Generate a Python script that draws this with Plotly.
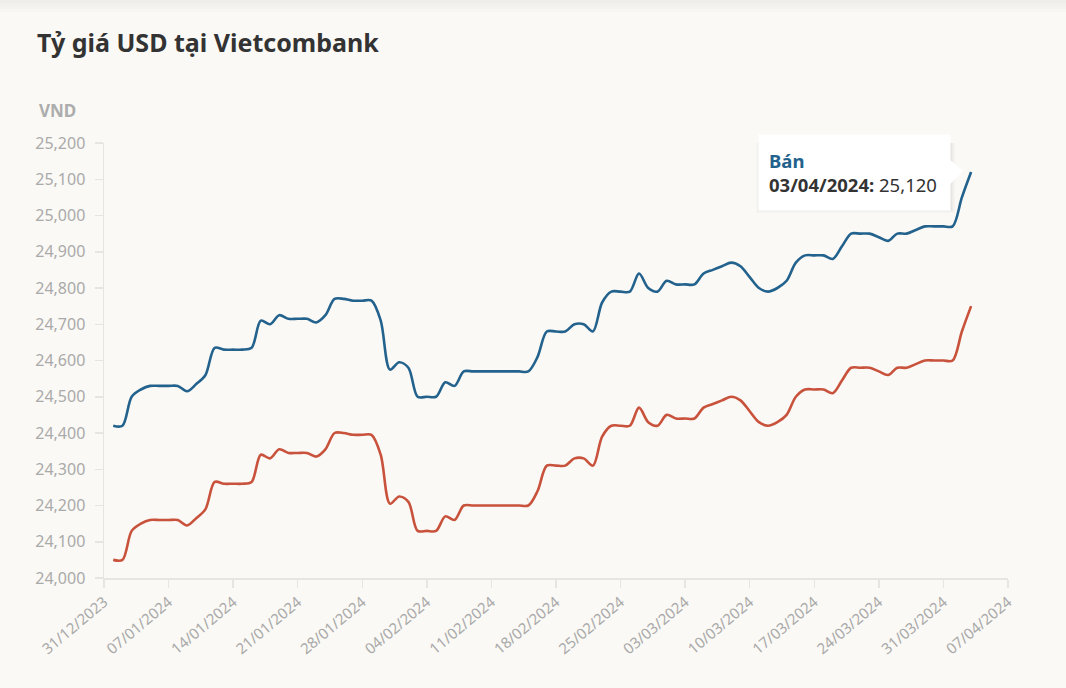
import pandas as pd
import plotly.graph_objects as go

# Daily selling (Bán) and buying (Mua) USD rates at Vietcombank, 01/01/2024 - 03/04/2024
sell = [
    24420, 24420, 24500, 24520, 24530, 24530, 24530, 24530, 24515, 24535,
    24560, 24635, 24630, 24630, 24630, 24635, 24710, 24700, 24725, 24715,
    24715, 24715, 24705, 24725, 24770, 24770, 24765, 24765, 24765, 24710,
    24575, 24595, 24580, 24500, 24500, 24500, 24540, 24530, 24570, 24570,
    24570, 24570, 24570, 24570, 24570, 24570, 24610, 24680, 24680, 24680,
    24700, 24700, 24680, 24760, 24790, 24790, 24790, 24840, 24800, 24790,
    24820, 24810, 24810, 24810, 24840, 24850, 24860, 24870, 24860, 24830,
    24800, 24790, 24800, 24820, 24870, 24890, 24890, 24890, 24880, 24915,
    24950, 24950, 24950, 24940, 24930, 24950, 24950, 24960, 24970, 24970,
    24970, 24970, 25050, 25120,
]
buy = [
    24050, 24050, 24130, 24150, 24160, 24160, 24160, 24160, 24145, 24165,
    24190, 24265, 24260, 24260, 24260, 24265, 24340, 24330, 24355, 24345,
    24345, 24345, 24335, 24355, 24400, 24400, 24395, 24395, 24395, 24340,
    24205, 24225, 24210, 24130, 24130, 24130, 24170, 24160, 24200, 24200,
    24200, 24200, 24200, 24200, 24200, 24200, 24240, 24310, 24310, 24310,
    24330, 24330, 24310, 24390, 24420, 24420, 24420, 24470, 24430, 24420,
    24450, 24440, 24440, 24440, 24470, 24480, 24490, 24500, 24490, 24460,
    24430, 24420, 24430, 24450, 24500, 24520, 24520, 24520, 24510, 24545,
    24580, 24580, 24580, 24570, 24560, 24580, 24580, 24590, 24600, 24600,
    24600, 24600, 24680, 24750,
]
dates = pd.date_range("2024-01-01", periods=len(sell), freq="D")

y_ticks = [24000, 24100, 24200, 24300, 24400, 24500, 24600, 24700, 24800,
           24900, 25000, 25100, 25200]

title_text = "Tỷ giá USD tại Vietcombank"
unit_text = "VND"
sell_name = "Bán"
buy_name = "Mua"

BG = "#faf9f5"
BLUE = "#22628d"
RED = "#c8523b"
GRAY_TXT = "#aaaaaa"
AXIS = "#e6e5e2"
FONT = "Noto Sans"

fig = go.Figure()
fig.add_trace(go.Scatter(
    x=dates, y=buy, name=buy_name, mode="lines",
    line=dict(color=RED, width=2.6, shape="spline", smoothing=0.9),
))
fig.add_trace(go.Scatter(
    x=dates, y=sell, name=sell_name, mode="lines",
    line=dict(color=BLUE, width=2.6, shape="spline", smoothing=0.9),
))

last_x = dates[-1]
last_x_str = last_x.strftime("%Y-%m-%d")
last_y = sell[-1]

shapes = []
# soft top shadow band
for h in [3, 6, 9, 12]:
    shapes.append(dict(
        type="rect", xref="paper", yref="paper",
        x0=-0.2, x1=1.2, y0=1 + (143 - h) / 435, y1=1 + 150 / 435,
        fillcolor="rgba(0,0,0,0.012)", line=dict(width=0), layer="below",
    ))
# tooltip shadow
for pad, op in [(4, 0.018), (2.5, 0.025), (1.2, 0.035)]:
    shapes.append(dict(
        type="path", xref="x", yref="y", xsizemode="pixel", ysizemode="pixel",
        xanchor=last_x_str, yanchor=last_y,
        path=f"M {-211 - pad},{-38 - pad + 1} L {-20 + pad},{-38 - pad + 1} "
             f"L {-20 + pad},{38 + pad - 2} L {-211 - pad},{38 + pad - 2} Z",
        fillcolor=f"rgba(0,0,0,{op})", line=dict(width=0), layer="above",
    ))
# tooltip pointer
shapes.append(dict(
    type="path", xref="x", yref="y", xsizemode="pixel", ysizemode="pixel",
    xanchor=last_x_str, yanchor=last_y,
    path="M -22,13 L -8,1 L -22,-13 Z",
    fillcolor="white", line=dict(width=0), layer="above",
))

annotations = [
    dict(
        xref="paper", yref="paper", x=(37 - 104) / 904, y=1,
        xanchor="left", yanchor="bottom", yshift=19, showarrow=False,
        text=f"<b>{unit_text}</b>", font=dict(family=FONT, size=17, color="#adadad"),
    ),
    dict(
        x=last_x, y=last_y, xref="x", yref="y", xanchor="right", yanchor="middle",
        xshift=-20, showarrow=False, align="left", valign="middle",
        width=171, height=55, borderpad=10, bgcolor="white",
        text=(f"<b><span style='color:{BLUE}'>{sell_name}</span></b><br>"
              f"<b>{last_x:%d/%m/%Y}:</b> {last_y:,}"),
        font=dict(family=FONT, size=18.5, color="#333333"),
    ),
]

fig.update_layout(
    width=1066, height=688,
    paper_bgcolor=BG, plot_bgcolor=BG,
    margin=dict(l=104, r=58, t=143, b=110),
    showlegend=False, hovermode=False,
    font=dict(family=FONT, color=GRAY_TXT),
    title=dict(
        text=f"<b>{title_text}</b>", xref="container", yref="container",
        x=37 / 1066, xanchor="left", y=1 - 43 / 688, yanchor="middle",
        font=dict(family=FONT, size=25, color="#333333"),
    ),
    shapes=shapes, annotations=annotations,
)
fig.update_xaxes(
    type="date", range=["2023-12-31", "2024-04-07"],
    tick0="2023-12-31", dtick=7 * 24 * 3600 * 1000, tickformat="%d/%m/%Y",
    tickangle=-40, tickfont=dict(family=FONT, size=15, color=GRAY_TXT),
    showgrid=False, zeroline=False, showline=True, linecolor=AXIS, linewidth=1.5,
    ticks="outside", ticklen=8, tickcolor=AXIS, tickwidth=1.5,
)
fig.update_yaxes(
    range=[24000, 25200], tickvals=y_ticks, tickformat=",d",
    tickfont=dict(family=FONT, size=16, color=GRAY_TXT),
    showgrid=False, zeroline=False, showline=True, linecolor=AXIS, linewidth=1.5,
    ticks="outside", ticklen=8, tickcolor=AXIS, tickwidth=1.5,
    ticklabelstandoff=6,
)

fig.write_html(
    "out.html",
    config={"displayModeBar": False, "staticPlot": True},
    post_script="document.body.style.margin='0';document.body.style.overflow='hidden';",
)
